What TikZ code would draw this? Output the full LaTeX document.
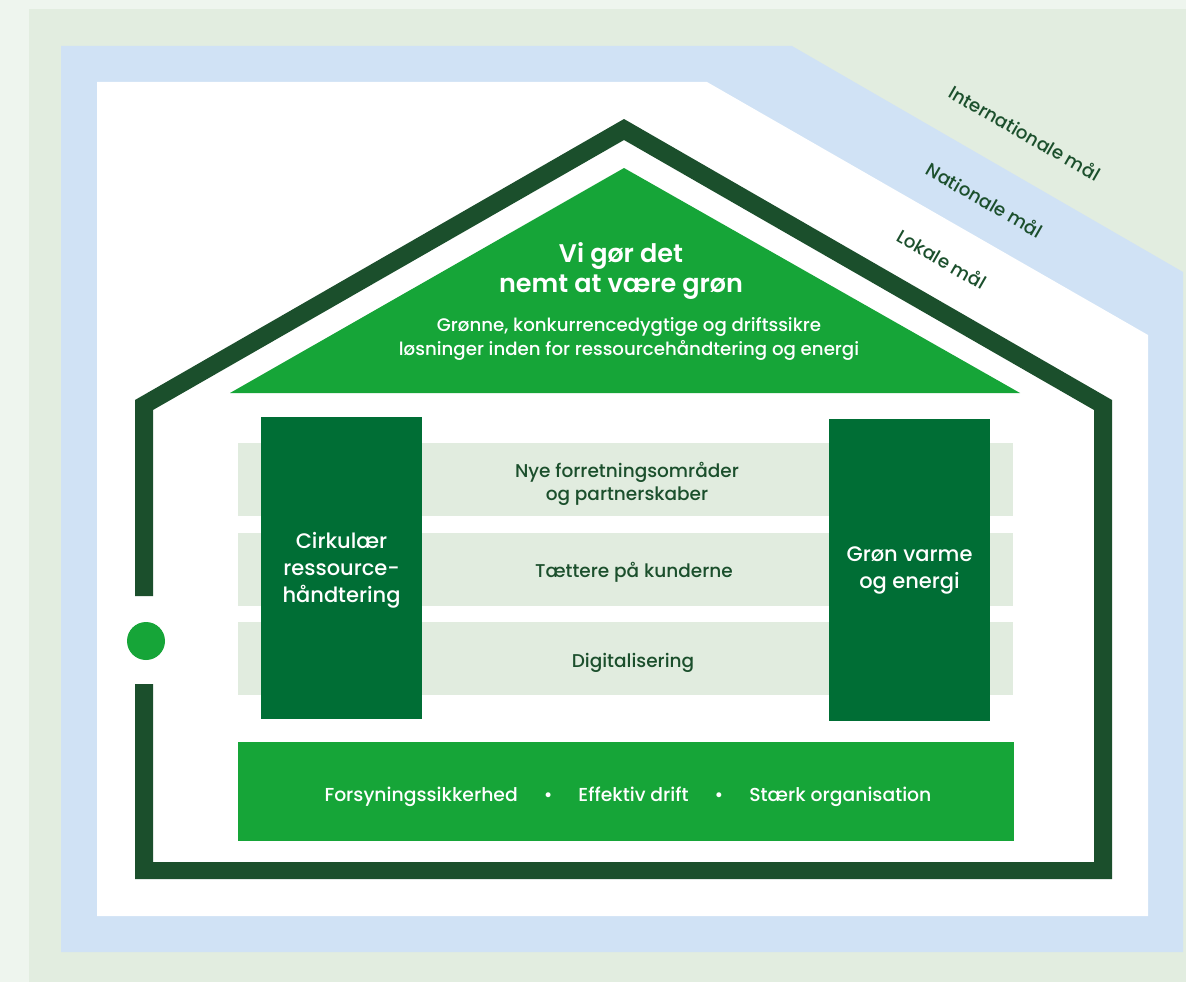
\documentclass[tikz,border=0pt]{standalone}
\usepackage{fontspec}
\setmainfont{Poppins}[UprightFont={* Medium}, BoldFont={* SemiBold}]
\definecolor{pagebg}{HTML}{EEF5EE}
\definecolor{outerband}{HTML}{E2EDE0}
\definecolor{blueband}{HTML}{D0E2F5}
\definecolor{housedark}{HTML}{1B4F2C}
\definecolor{brightgreen}{HTML}{16A538}
\definecolor{pillargreen}{HTML}{006E35}
\definecolor{bandlight}{HTML}{E1ECDF}
\definecolor{textdark}{HTML}{1B4F2C}
\tikzset{
  boxshape/.style={inner sep=0pt, outer sep=0pt, anchor=north west},
  bandbox/.style={boxshape, fill=bandlight, minimum width=775pt, minimum height=73pt},
  pillarbox/.style={boxshape, fill=pillargreen, minimum width=161pt, minimum height=302pt},
  bandtext/.style={text=textdark, align=center, font=\fontsize{18.5}{23.5}\selectfont},
  pillartext/.style={text=white, align=center, font=\fontsize{21}{27}\selectfont},
  levellabel/.style={text=textdark, rotate=-29.9, font=\fontsize{18.3}{20}\selectfont},
}
\begin{document}
\begin{tikzpicture}[x=1pt,y=-1pt]
\useasboundingbox (0,0) rectangle (1186,982);
% backgrounds
\fill[pagebg] (0,0) rectangle (1186,982);
\fill[outerband] (29,9) rectangle (1186,982);
\fill[blueband] (61,46) -- (792,46) -- (1183,272) -- (1183,952) -- (61,952) -- cycle;
\fill[white] (97,82) -- (707,82) -- (1148,335) -- (1148,916) -- (97,916) -- cycle;
% house outline
\fill[housedark] (135,596) -- (135,400) -- (624,119) -- (1112,400) -- (1112,879) -- (135,879) -- (135,684)
  -- (153,684) -- (153,862) -- (1094,862) -- (1094,410) -- (624,140) -- (153,410) -- (153,596) -- cycle;
% door knob
\node[circle, fill=brightgreen, minimum size=38pt, inner sep=0pt] (knob) at (146,641) {};
% roof triangle
\fill[brightgreen] (624,168) -- (1020,393) -- (230,393) -- cycle;
\node[text=white, align=center, font=\bfseries\fontsize{25.5}{29.5}\selectfont] (title) at (621,271) {Vi gør det\\nemt at være grøn};
\node[text=white, align=center, font=\fontsize{18.2}{24}\selectfont] (subtitle) at (629,339) {Grønne, konkurrencedygtige og driftssikre\\løsninger inden for ressourcehåndtering og energi};
% bands
\node[bandbox] (band1) at (238,443) {};
\node[bandbox] (band2) at (238,533) {};
\node[bandbox] (band3) at (238,622) {};
\node[bandtext] (band1text) at (627,484) {Nye forretningsområder\\og partnerskaber};
\node[bandtext] (band2text) at (634,572) {Tættere på kunderne};
\node[bandtext] (band3text) at (633,663) {Digitalisering};
% pillars
\node[pillarbox] (pillarL) at (261,417) {};
\node[pillarbox] (pillarR) at (829,419) {};
\node[pillartext] (pillarLtext) at ([yshift=-2pt]pillarL.center) {Cirkulær\\ressource-\\håndtering};
\node[pillartext] (pillarRtext) at (pillarR.center) {Grøn varme\\og energi};
% foundation
\node[boxshape, fill=brightgreen, minimum width=776pt, minimum height=99pt] (base) at (238,742) {};
\node[text=white, font=\fontsize{18.8}{20}\selectfont] (basetext) at (628,797) {Forsyningssikkerhed\hspace{26pt}•\hspace{26pt}Effektiv drift\hspace{26pt}•\hspace{26pt}Stærk organisation};
% level labels
\node[levellabel] (intl) at (1025,133) {Internationale mål};
\node[levellabel] (natl) at (985,200) {Nationale mål};
\node[levellabel] (lokal) at (942,259) {Lokale mål};
\end{tikzpicture}
\end{document}
